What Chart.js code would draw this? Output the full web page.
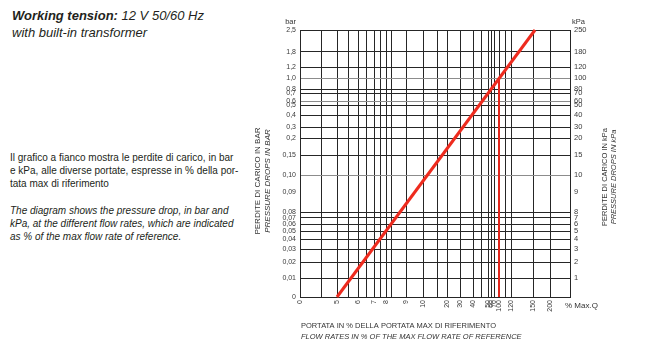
<!DOCTYPE html>
<html>
<head>
<meta charset="utf-8">
<script src="https://cdn.jsdelivr.net/npm/chart.js@4.4.0/dist/chart.umd.min.js"></script>
<style>
html, body { margin: 0; padding: 0; background: #fff; }
body { width: 650px; height: 361px; position: relative; overflow: hidden;
       font-family: "Liberation Sans", Arial, sans-serif; color: #231f20; }
#head { position: absolute; left: 12px; top: 7px; font-size: 13px; line-height: 17px; font-style: italic; }
.par { position: absolute; left: 10px; font-size: 10px; line-height: 13px; white-space: pre; }
#p1 { top: 151px; }
#p2 { top: 204px; font-style: italic; }
#c1 { position: absolute; left: 250px; top: 0; }
</style>
</head>
<body>
<div id="head"><b>Working tension:</b> 12 V 50/60 Hz<br>with built-in transformer</div>
<div class="par" id="p1">Il grafico a fianco mostra le perdite di carico, in bar
e kPa, alle diverse portate, espresse in % della por-
tata max di riferimento</div>
<div class="par" id="p2">The diagram shows the pressure drop, in bar and
kPa, at the different flow rates, which are indicated
as % of the max flow rate of reference.</div>
<canvas id="c1" width="400" height="361"></canvas>
<script>
"use strict";

// pressure drop line: flow in % of max flow, drop in bar
let flowPct = [5, 156];
let dropBar = [0, 2.5];
// reference flow (100 %)
let refPct = [100, 100];
let refBar = [0, 1.0];

// tick values / labels
let xTicks = [0, 5, 6, 7, 8, 9, 10, 20, 30, 40, 50, 60, 70, 100, 120, 150, 200];
let xMinor = [2.5, 5.5, 6.5, 7.5, 8.5, 15, 45, 110, 250];
let barTicks = [0, 0.01, 0.02, 0.03, 0.04, 0.05, 0.06, 0.07, 0.08, 0.09, 0.1, 0.15,
                0.2, 0.3, 0.4, 0.5, 0.6, 0.7, 0.8, 1.0, 1.2, 1.8, 2.5];
let barLabels = ['0', '0,01', '0,02', '0,03', '0,04', '0,05', '0,06', '0,07', '0,08', '0,09', '0,10', '0,15',
                 '0,2', '0,3', '0,4', '0,5', '0,6', '0,7', '0,8', '1,0', '1,2', '1,8', '2,5'];
let kpaLabels = ['', '1', '2', '3', '4', '5', '6', '7', '8', '9', '10', '15',
                 '20', '30', '40', '50', '60', '70', '80', '100', '120', '180', '250'];

// the printed chart is not a regular scale: where each value sits along its axis (out of 270 / 267)
let xPlace = {0: 0, 2.5: 21, 5: 37, 5.5: 48, 6: 58, 6.5: 66, 7: 74, 7.5: 80, 8: 86, 8.5: 91, 9: 106,
              10: 123, 15: 137, 20: 147, 30: 160, 40: 173, 45: 181, 50: 188, 60: 191, 70: 194,
              100: 199, 110: 205, 120: 211, 150: 233, 200: 250, 250: 270};
let yPlace = [0, 19, 35, 48, 58, 66, 73, 79, 85, 105, 122, 142, 159, 170, 182, 192, 196, 204, 208,
              219, 230, 245, 267];

let xStops = xTicks.concat(xMinor).sort((a, b) => a - b);
let places = {
    x: {stops: xStops, fr: xStops.map(v => xPlace[v] / 270)},
    y: {stops: barTicks, fr: yPlace.map(v => v / 267)},
};
places.y2 = places.y;

// linear scale with a piecewise mapping between the stops
class StepScale extends Chart.LinearScale {
    determineDataLimits() {
        let s = places[this.id].stops;
        this.min = s[0];
        this.max = s[s.length - 1];
    }
    buildTicks() {
        return places[this.id].stops.map(v => ({value: v}));
    }
    getPixelForValue(v) {
        let s = places[this.id].stops, f = places[this.id].fr;
        let i = 0;
        while (i < s.length - 2 && v > s[i + 1]) i++;
        let d = f[i] + (v - s[i]) / (s[i + 1] - s[i]) * (f[i + 1] - f[i]);
        return this.getPixelForDecimal(d);
    }
    getValueForPixel(px) {
        let s = places[this.id].stops, f = places[this.id].fr;
        let d = this.getDecimalForPixel(px);
        let i = 0;
        while (i < f.length - 2 && d > f[i + 1]) i++;
        return s[i] + (d - f[i]) / (f[i + 1] - f[i]) * (s[i + 1] - s[i]);
    }
}
StepScale.id = 'step';
StepScale.defaults = {};
Chart.register(StepScale);

Chart.defaults.font.family = '"Liberation Sans", Arial, sans-serif';
Chart.defaults.color = '#3a3a3a';

let ink = '#262626';

let extraText = {
    id: 'extraText',
    afterDraw(chart) {
        let c = chart.ctx, a = chart.chartArea;
        c.save();
        c.fillStyle = '#333';
        c.textBaseline = 'middle';
        c.font = '7.5px "Liberation Sans"';
        c.textAlign = 'right';
        c.fillText('bar', a.left - 4, 22);
        c.textAlign = 'left';
        c.fillText('kPa', a.right + 2, 22);
        c.font = '8px "Liberation Sans"';
        c.fillText('% Max.Q', a.right - 5, 306);

        c.font = '7.5px "Liberation Sans"';
        c.fillText('PORTATA IN % DELLA PORTATA MAX DI RIFERIMENTO', a.left + 1, 326);
        c.font = 'italic 7.5px "Liberation Sans"';
        c.fillText('FLOW RATES IN % OF THE MAX FLOW RATE OF REFERENCE', a.left + 1, 337);

        // vertical titles
        c.textAlign = 'center';
        c.save();
        c.translate(8, 181);
        c.rotate(-Math.PI / 2);
        c.font = '8px "Liberation Sans"';
        c.fillText('PERDITE DI CARICO IN BAR', 0, 0);
        c.font = 'italic 8px "Liberation Sans"';
        c.fillText('PRESSURE DROPS IN BAR', 0, 10);
        c.restore();
        c.save();
        c.translate(355, 177);
        c.rotate(-Math.PI / 2);
        c.font = '7.5px "Liberation Sans"';
        c.fillText('PERDITE DI CARICO IN kPa', 0, 0);
        c.font = 'italic 7.5px "Liberation Sans"';
        c.fillText('PRESSURE DROPS IN kPa', 0, 9);
        c.restore();
        c.restore();
    }
};

let yGrid = (ctx) => {
    let v = ctx.tick ? ctx.tick.value : null;
    if (v === 0.09) return 'rgba(0,0,0,0)';
    if (v === 0.1 || v === 1 || v === 0.6) return '#8c8c8c';
    return ink;
};

let c1 = document.querySelector('#c1');
let opts = {
    type: 'line',
    data: {
        datasets: [
            {
                data: flowPct.map((x, i) => ({x: x, y: dropBar[i]})),
                borderColor: '#ee2b1e', borderWidth: 3, pointRadius: 0,
                xAxisID: 'x', yAxisID: 'y',
            },
            {
                data: refPct.map((x, i) => ({x: x, y: refBar[i]})),
                borderColor: '#e3261c', borderWidth: 2, pointRadius: 0,
                xAxisID: 'x', yAxisID: 'y',
            },
        ],
    },
    options: {
        responsive: false,
        animation: false,
        devicePixelRatio: 1,
        layout: {padding: {top: 30, left: 0, right: 0, bottom: 0}},
        plugins: {legend: {display: false}, tooltip: {enabled: false}},
        scales: {
            x: {
                type: 'step', position: 'bottom',
                afterFit: (s) => { s.height = 64; },
                grid: {color: ink, lineWidth: 1, drawTicks: false},
                border: {color: ink, width: 1},
                ticks: {
                    autoSkip: false, minRotation: 90, maxRotation: 90, padding: 3,
                    font: {size: 7},
                    callback: (v) => xTicks.includes(v) ? String(v) : '',
                },
            },
            y: {
                type: 'step', position: 'left',
                afterFit: (s) => { s.width = 50; },
                grid: {color: yGrid, lineWidth: 1, drawTicks: false},
                border: {color: ink, width: 1},
                ticks: {
                    autoSkip: false, padding: 4, font: {size: 7},
                    callback: (v, i) => barLabels[i],
                },
            },
            y2: {
                type: 'step', position: 'right',
                afterFit: (s) => { s.width = 80; },
                grid: {display: false, drawTicks: false},
                border: {color: ink, width: 1},
                ticks: {
                    autoSkip: false, padding: 4, font: {size: 7.5},
                    callback: (v, i) => kpaLabels[i],
                },
            },
        },
    },
    plugins: [extraText],
};
let chart1 = new Chart(c1, opts);
</script>
</body>
</html>
